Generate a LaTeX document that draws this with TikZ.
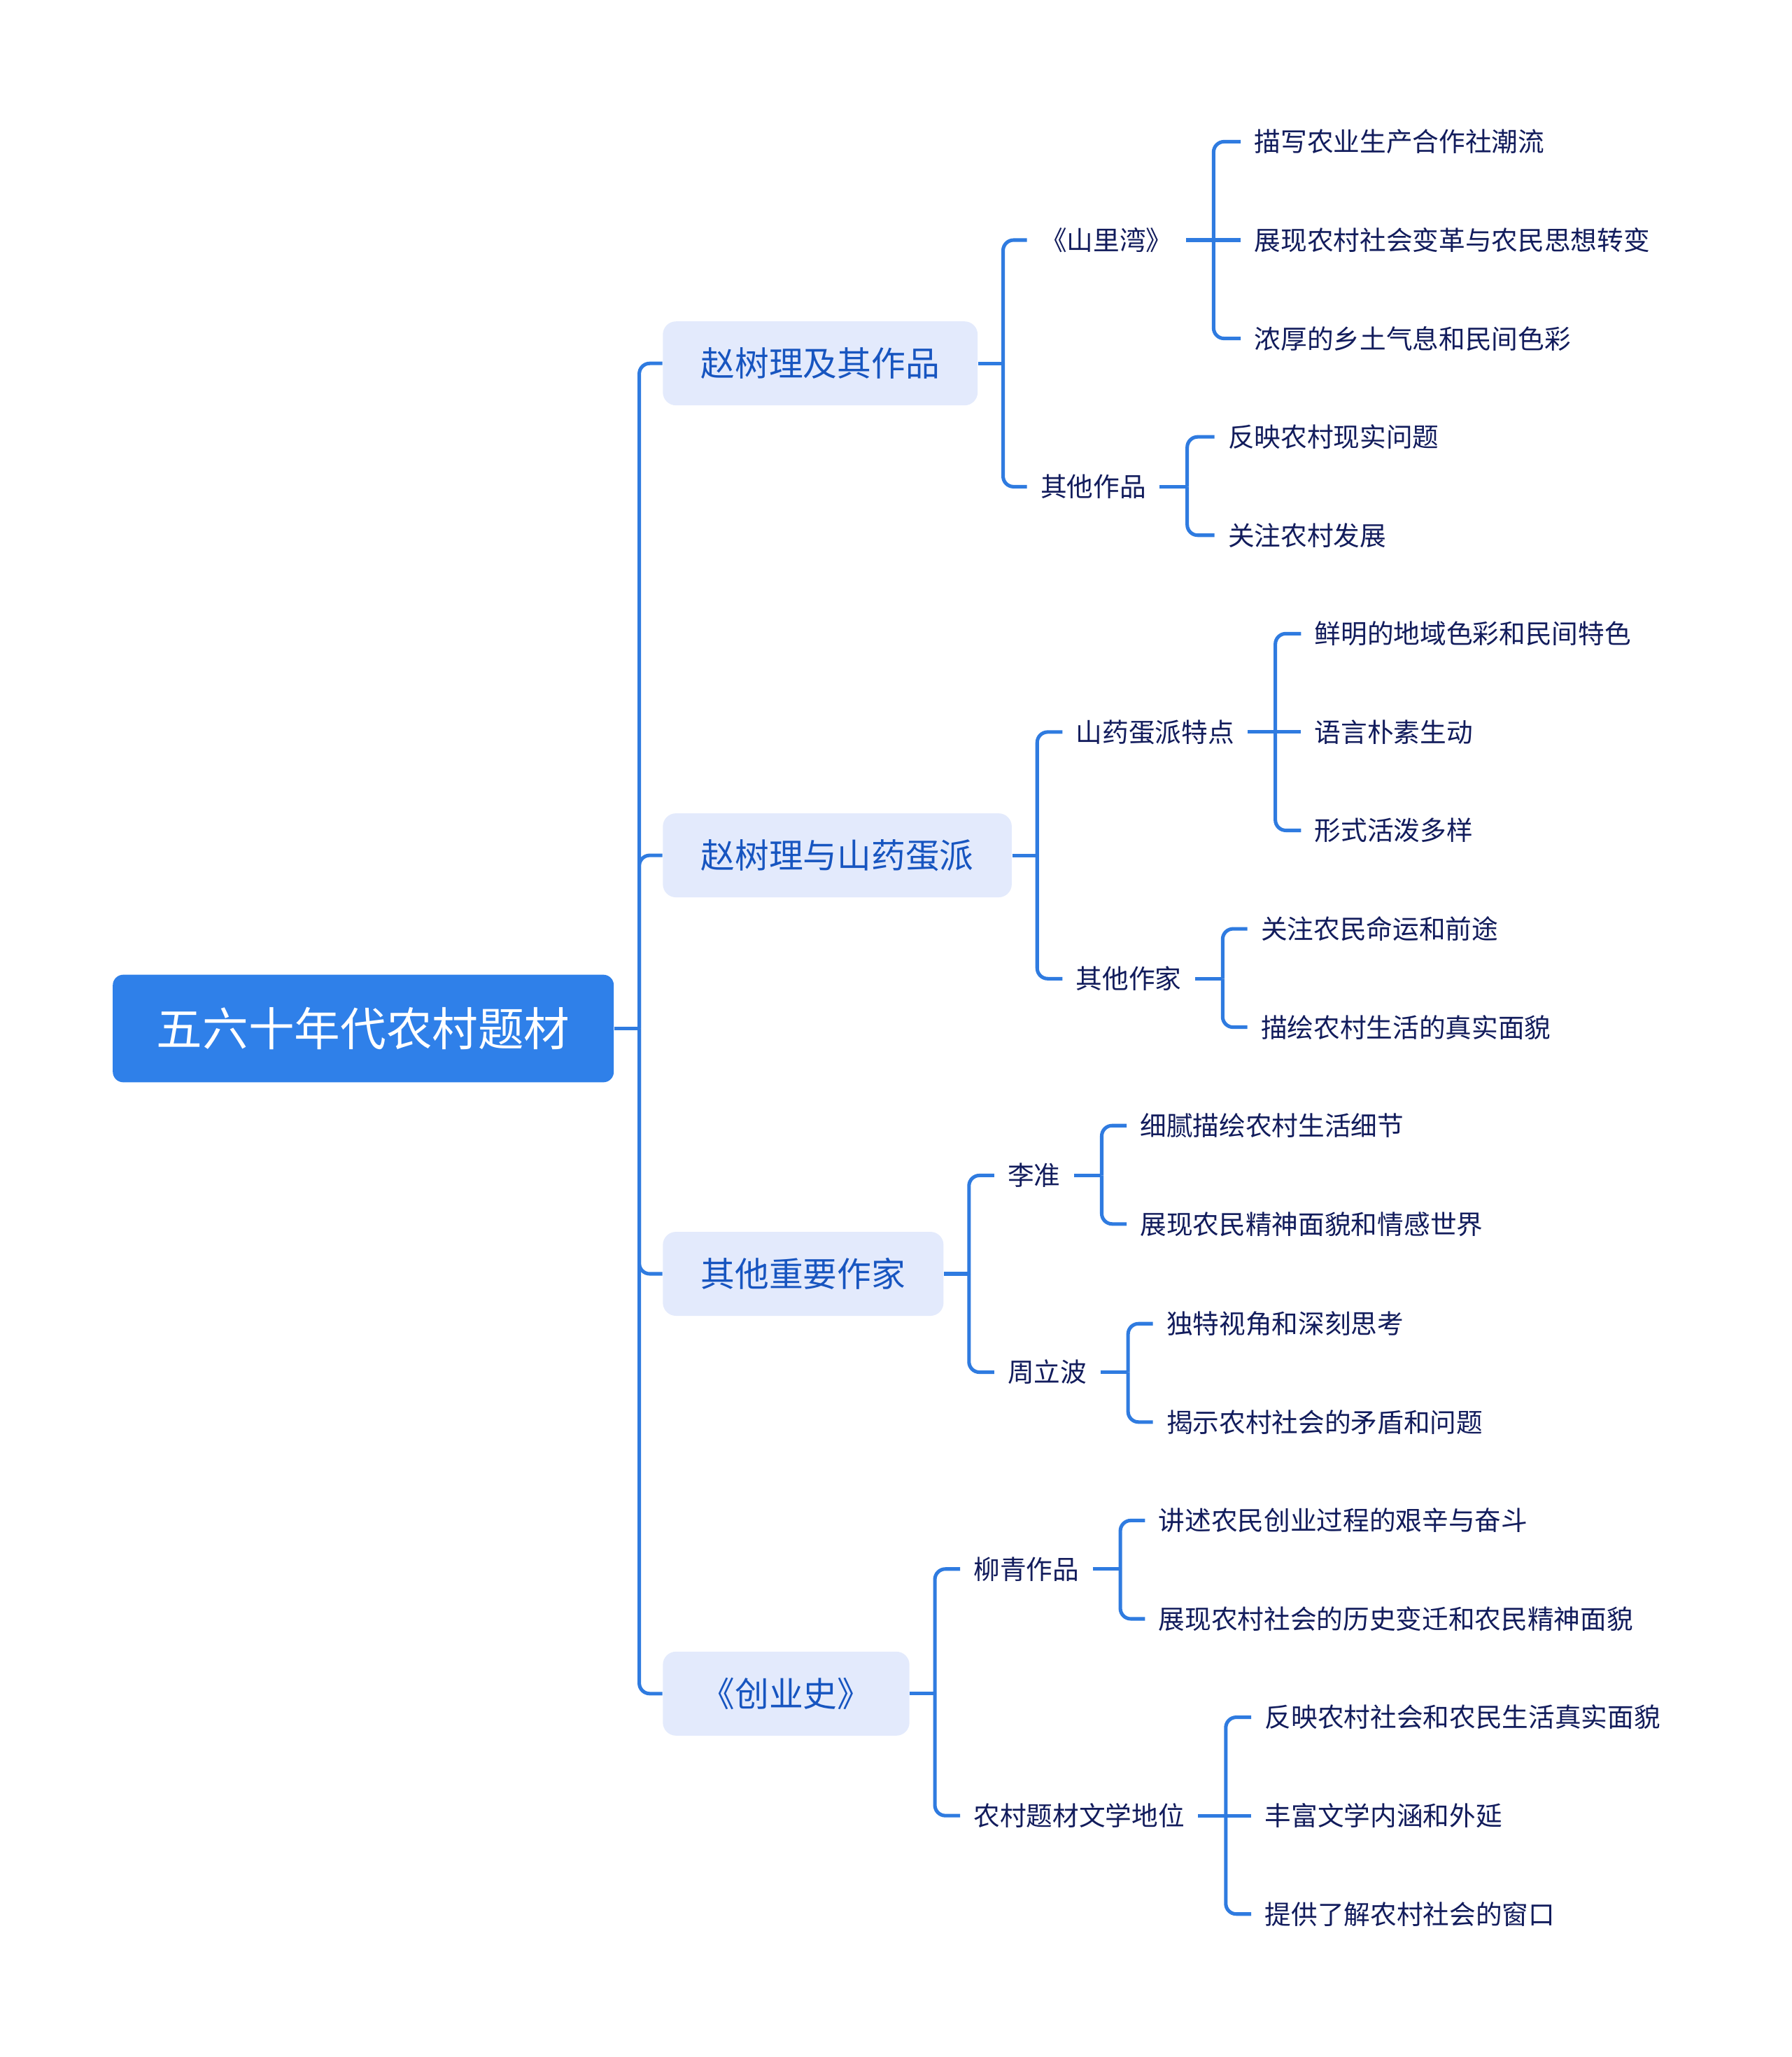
\documentclass[tikz,border=0pt]{standalone}
\usepackage{fontspec}
\newfontfamily\cjk{Noto Sans CJK SC}
\definecolor{rootblue}{RGB}{47,128,233}
\definecolor{lvfill}{RGB}{227,234,252}
\definecolor{lvtext}{RGB}{23,85,192}
\definecolor{linec}{RGB}{47,123,224}
\definecolor{leaftext}{RGB}{18,28,92}
\tikzset{
  rootbox/.style={fill=rootblue, rounded corners=4pt, text=white, font=\cjk\fontsize{17.5}{20}\selectfont,
    minimum width=191pt, minimum height=41pt, inner sep=0pt},
  lvbox/.style={fill=lvfill, rounded corners=5pt, text=lvtext, font=\cjk\fontsize{13}{15}\selectfont,
    minimum height=32pt, inner xsep=14.5pt, inner ysep=0pt, anchor=west},
  tnode/.style={text=leaftext, font=\cjk\fontsize{10.05}{12}\selectfont, inner xsep=5pt, inner ysep=2pt, anchor=west},
  conn/.style={draw=linec, line width=1.35pt, rounded corners=4pt},
}
\newcommand\stubA[1]{\draw[conn] (#1.east) -- ++(9.5pt,0);}
\newcommand\lnkA[2]{\draw[conn] ([xshift=9.5pt]#1.east) |- (#2.west);}
\newcommand\stubB[1]{\draw[conn] (#1.east) -- ++(10.5pt,0);}
\newcommand\lnkB[2]{\draw[conn] ([xshift=10.5pt]#1.east) |- (#2.west);}
\newcommand\midB[2]{\draw[conn] ([xshift=10.5pt]#1.east) -- (#2.west);}
\begin{document}
\begin{tikzpicture}[x=0.5pt,y=-0.5pt]
\fill[white] (0,0) rectangle (1366,1568);
\useasboundingbox (0,0) rectangle (1366,1568);

% root
\node[rootbox] (root) at (277,784) {五六十年代农村题材};

% level 1
\node[lvbox] (A) at (505,277) {赵树理及其作品};
\node[lvbox] (B) at (505,652) {赵树理与山药蛋派};
\node[lvbox] (C) at (505,971) {其他重要作家};
\node[lvbox] (D) at (505,1291) {《创业史》};

% level 2
\node[tnode] (a1) at (783,183) {《山里湾》};
\node[tnode] (a2) at (783,371) {其他作品};
\node[tnode] (b1) at (810,558) {山药蛋派特点};
\node[tnode] (b2) at (810,746) {其他作家};
\node[tnode] (c1) at (758,896) {李准};
\node[tnode] (c2) at (758,1046) {周立波};
\node[tnode] (d1) at (732,1196) {柳青作品};
\node[tnode] (d2) at (732,1384) {农村题材文学地位};

% level 3
\node[tnode] (a11) at (946,108) {描写农业生产合作社潮流};
\node[tnode] (a12) at (946,183) {展现农村社会变革与农民思想转变};
\node[tnode] (a13) at (946,258) {浓厚的乡土气息和民间色彩};
\node[tnode] (a21) at (926,333) {反映农村现实问题};
\node[tnode] (a22) at (926,408) {关注农村发展};
\node[tnode] (b11) at (992,483) {鲜明的地域色彩和民间特色};
\node[tnode] (b12) at (992,558) {语言朴素生动};
\node[tnode] (b13) at (992,633) {形式活泼多样};
\node[tnode] (b21) at (951,708) {关注农民命运和前途};
\node[tnode] (b22) at (951,783) {描绘农村生活的真实面貌};
\node[tnode] (c11) at (859,858) {细腻描绘农村生活细节};
\node[tnode] (c12) at (859,933) {展现农民精神面貌和情感世界};
\node[tnode] (c21) at (879,1009) {独特视角和深刻思考};
\node[tnode] (c22) at (879,1084) {揭示农村社会的矛盾和问题};
\node[tnode] (d11) at (873,1159) {讲述农民创业过程的艰辛与奋斗};
\node[tnode] (d12) at (873,1234) {展现农村社会的历史变迁和农民精神面貌};
\node[tnode] (d21) at (954,1309) {反映农村社会和农民生活真实面貌};
\node[tnode] (d22) at (954,1384) {丰富文学内涵和外延};
\node[tnode] (d23) at (954,1459) {提供了解农村社会的窗口};

% connectors: root
\stubA{root}
\lnkA{root}{A}\lnkA{root}{B}\lnkA{root}{C}\lnkA{root}{D}
% level 1 -> level 2
\stubA{A}\lnkA{A}{a1}\lnkA{A}{a2}
\stubA{B}\lnkA{B}{b1}\lnkA{B}{b2}
\stubA{C}\lnkA{C}{c1}\lnkA{C}{c2}
\stubA{D}\lnkA{D}{d1}\lnkA{D}{d2}
% level 2 -> level 3
\stubB{a1}\lnkB{a1}{a11}\midB{a1}{a12}\lnkB{a1}{a13}
\stubB{a2}\lnkB{a2}{a21}\lnkB{a2}{a22}
\stubB{b1}\lnkB{b1}{b11}\midB{b1}{b12}\lnkB{b1}{b13}
\stubB{b2}\lnkB{b2}{b21}\lnkB{b2}{b22}
\stubB{c1}\lnkB{c1}{c11}\lnkB{c1}{c12}
\stubB{c2}\lnkB{c2}{c21}\lnkB{c2}{c22}
\stubB{d1}\lnkB{d1}{d11}\lnkB{d1}{d12}
\stubB{d2}\lnkB{d2}{d21}\midB{d2}{d22}\lnkB{d2}{d23}
\end{tikzpicture}
\end{document}
